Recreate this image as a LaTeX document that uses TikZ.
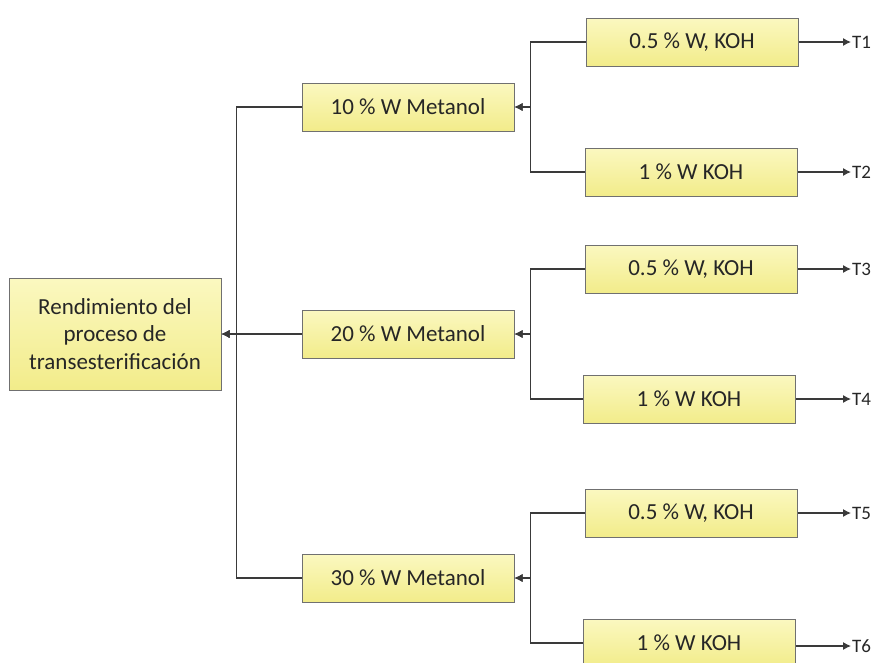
\documentclass[tikz,border=0pt]{standalone}
\usepackage{fontspec}
\setmainfont{Carlito}
\usetikzlibrary{arrows.meta}
\definecolor{boxtop}{HTML}{FBF8C0}
\definecolor{boxbot}{HTML}{F2EC8A}
\definecolor{boxline}{HTML}{707070}
\definecolor{wire}{HTML}{3A3A3A}
\definecolor{ink}{HTML}{262626}
\begin{document}
\begin{tikzpicture}[x=1pt,y=-1pt,
  box/.style={draw=boxline,line width=1pt,top color=boxtop,bottom color=boxbot,
    minimum width=212pt,minimum height=48pt,inner sep=0pt,text=ink,
    font=\fontsize{23}{27.5}\selectfont,align=center},
  wire/.style={draw=wire,line width=1.1pt},
  tip/.style={-{Latex[length=8pt,width=8pt]}},
  tlabel/.style={text=ink,font=\fontsize{19}{22}\selectfont,anchor=west,inner sep=1pt}]
\useasboundingbox (0,0) rectangle (875,662);

% root and methanol levels
\node[box,minimum height=112pt] (root) at (115,334) {Rendimiento del\\proceso de\\transesterificación};
\node[box] (m1) at (408,107) {10 \% W Metanol};
\node[box] (m2) at (408,334) {20 \% W Metanol};
\node[box] (m3) at (408,578) {30 \% W Metanol};

% catalyst levels
\node[box] (k1) at (692,42)  {0.5 \% W, KOH};
\node[box] (k2) at (691,172) {1 \% W KOH};
\node[box] (k3) at (691,269) {0.5 \% W, KOH};
\node[box] (k4) at (689,399) {1 \% W KOH};
\node[box] (k5) at (691,513) {0.5 \% W, KOH};
\node[box] (k6) at (689,643) {1 \% W KOH};

% treatment labels
\node[tlabel] (t1) at (851,42)  {T1};
\node[tlabel] (t2) at (851,172) {T2};
\node[tlabel] (t3) at (851,269) {T3};
\node[tlabel] (t4) at (851,399) {T4};
\node[tlabel] (t5) at (851,513) {T5};
\node[tlabel] (t6) at (851,646) {T6};

% methanol -> root
\draw[wire,tip] (m1.west) -- ++(-65,0) |- (root.east);
\draw[wire,tip] (m3.west) -- ++(-65,0) |- (root.east);
\draw[wire,tip] (m2.west) -- (root.east);

% catalyst -> methanol
\foreach \a/\b in {k1/m1,k2/m1,k3/m2,k4/m2,k5/m3,k6/m3}
  \draw[wire,tip] (\a.west) -| ([xshift=16pt]\b.east) -- (\b.east);

% catalyst -> treatment
\foreach \a/\b in {k1/t1,k2/t2,k3/t3,k4/t4,k5/t5}
  \draw[wire,tip] (\a.east) -- (\b.west);
\draw[wire,tip] (k6.east |- t6.west) -- (t6.west);
\end{tikzpicture}
\end{document}
